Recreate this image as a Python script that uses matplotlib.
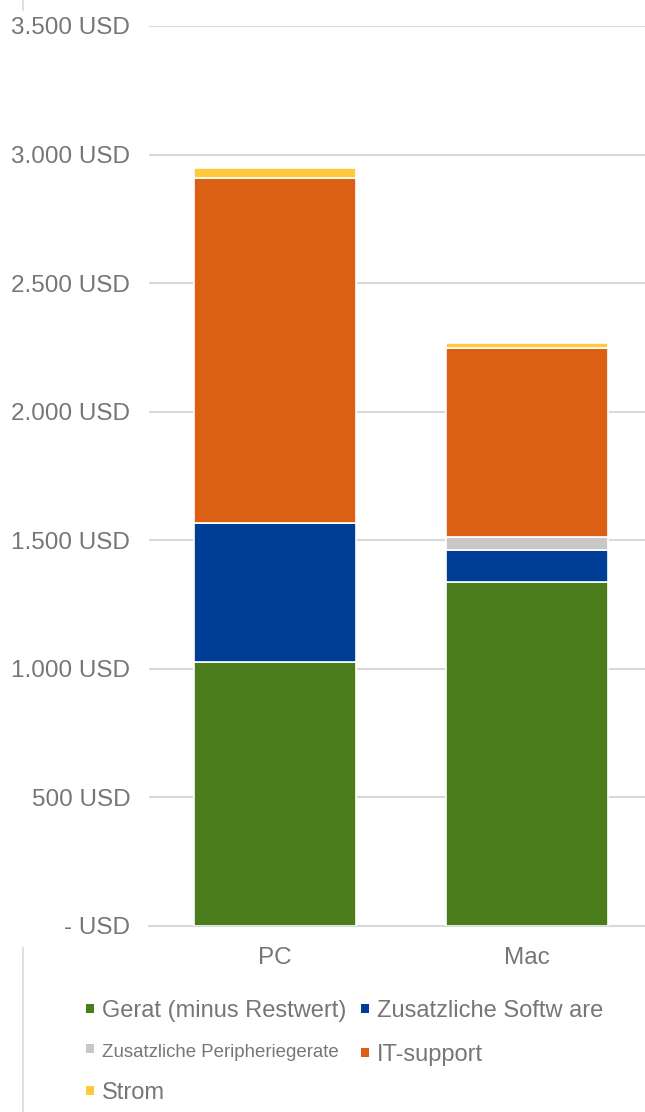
import matplotlib.pyplot as plt
from matplotlib.lines import Line2D
from matplotlib.patches import Patch
from matplotlib.ticker import FuncFormatter

# Kosten je Plattform (USD)
plattform = ['PC', 'Mac']
geraet = [1027, 1338]
software = [540, 124]
peripherie = [0, 51]
it_support = [1342, 735]
strom = [39, 20]

reihen = ['Gerat (minus Restwert)', 'Zusatzliche Softw are',
          'Zusatzliche Peripheriegerate', 'IT-support', 'Strom']
farben = ['#4a7c1c', '#003d96', '#c8c8c8', '#dc6014', '#fec93a']

plt.rcParams['font.family'] = ['Liberation Sans', 'DejaVu Sans']
grau = '#767676'

fig = plt.figure(figsize=(6.45, 11.12), dpi=100)
ax = fig.add_axes([149/645, 1 - 926/1112, 504/645, 900/1112])

werte = [geraet, software, peripherie, it_support, strom]
x = list(range(len(plattform)))
unten = [0, 0]
for name, farbe, w in zip(reihen, farben, werte):
	ax.bar(x, w, bottom=unten, width=0.64, color=farbe, edgecolor='white',
	       linewidth=1.2, label=name, zorder=3)
	unten = [u + v for u, v in zip(unten, w)]

ax.set_xlim(-0.5, 1.5)
ax.set_ylim(0, 3500)
ax.set_yticks(range(0, 3501, 500))


def usd(v, pos):
	if v == 0:
		return '- USD'
	return '{:,.0f} USD'.format(v).replace(',', '.')


ax.yaxis.set_major_formatter(FuncFormatter(usd))
ax.set_xticks(x)
ax.set_xticklabels(plattform)
ax.tick_params(axis='y', length=0, pad=13.5, labelsize=17.5, labelcolor=grau)
ax.tick_params(axis='x', length=0, pad=15, labelsize=17.5, labelcolor=grau)
ax.grid(axis='y', color='#d9d9d9', linewidth=1.5, zorder=0)
for s in ['top', 'right', 'left']:
	ax.spines[s].set_visible(False)
ax.spines['bottom'].set_color('#d9d9d9')
ax.spines['bottom'].set_linewidth(1.5)

# Legende: zwei Spalten, spaltenweise gefuellt
reihenfolge = [0, 2, 4, 1, 3]
handles = [Patch(facecolor=farben[i], edgecolor='none') for i in reihenfolge]
leg = fig.legend(handles, [reihen[i] for i in reihenfolge],
                 loc='upper left', bbox_to_anchor=(86/645, 1 - 1000/1112), ncol=2,
                 frameon=False, fontsize=17, handlelength=0.34, handleheight=0.2,
                 handletextpad=0.34, columnspacing=0.6, labelspacing=0.92,
                 borderaxespad=0, borderpad=0)
for t in leg.get_texts():
	t.set_color(grau)
leg.get_texts()[1].set_fontsize(13.4)

# duenne Randlinie links
fig.add_artist(Line2D([23/645, 23/645], [0, 1 - 948/1112], color='#d9d9d9', lw=1.2))
fig.add_artist(Line2D([23/645, 23/645], [1 - 10/1112, 1], color='#d9d9d9', lw=1.2))

fig.savefig('out.png', dpi=100)
